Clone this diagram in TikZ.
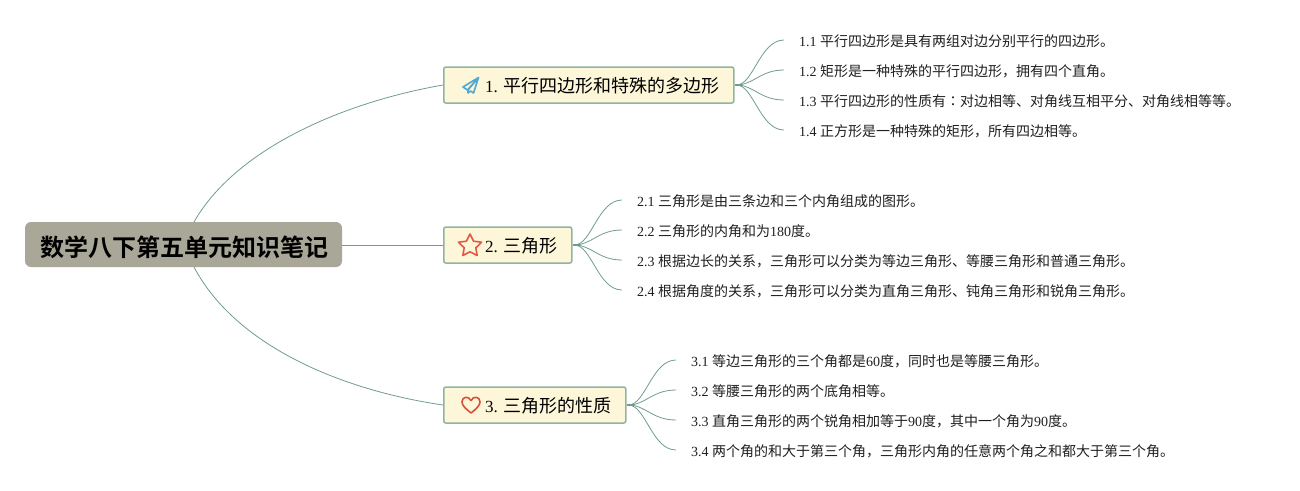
\documentclass[tikz,border=0pt]{standalone}
\usepackage{fontspec}
\setmainfont{Liberation Serif}
\newfontfamily\cjk{Noto Sans CJK SC}[BoldFont={Noto Sans CJK SC Bold}]
\newfontfamily\cjkt{Noto Sans CJK TC}
\newcommand{\C}[1]{{\cjk #1}}
\newcommand{\T}[1]{{\cjk\fontsize{18}{18}\selectfont #1}}
\usetikzlibrary{calc}
\definecolor{linec}{HTML}{6F9C8E}
\definecolor{boxb}{HTML}{8FB5A2}
\definecolor{boxf}{HTML}{FDF6D8}
\definecolor{rootf}{HTML}{A8A798}
\definecolor{planec}{HTML}{4FA8D5}
\definecolor{starc}{HTML}{E25A45}
\definecolor{heartc}{HTML}{D9503F}
\tikzset{
 x=1pt,y=-1pt,
 rootbox/.style={draw=none,fill=rootf,rounded corners=6pt,minimum width=317pt,minimum height=45pt,inner sep=0pt,text=black},
 roottext/.style={inner sep=0pt,font=\cjk\bfseries\fontsize{24}{24}\selectfont,text=black},
 topic/.style={draw=boxb,line width=1.5pt,fill=boxf,rounded corners=2pt,minimum height=36pt,inner sep=0pt,anchor=west},
 topictext/.style={anchor=west,inner sep=0pt,font=\fontsize{17}{18}\selectfont,text=black},
 leaf/.style={anchor=west,inner xsep=15pt,inner ysep=0pt,text height=12pt,text depth=1pt,font=\fontsize{14}{15}\selectfont,text=black!88},
 mainline/.style={draw=linec,line width=0.8pt},
 subline/.style={draw=linec,line width=0.8pt},
 stub/.style={draw=linec,line width=2pt},
 icon/.style={line width=1.6pt,line join=round,fill=none},
}
\begin{document}
\begin{tikzpicture}
\useasboundingbox (0,0) rectangle (1300,490);
\node[rootbox] (root) at (183.5,244.5) {};
\node[roottext] (roott) at (184.5,247) {数学八下第五单元知识笔记};
\node[topic,minimum width=290pt] (t1) at (443,85) {};
\node[topic,minimum width=128pt] (t2) at (443,245) {};
\node[topic,minimum width=182pt] (t3) at (443,405) {};
\node[topictext] (l1) at (485,86) {1. \T{平行四边形和特殊的多边形}};
\node[topictext] (l2) at (485,246) {2. \T{三角形}};
\node[topictext] (l3) at (485,406) {3. \T{三角形的性质}};

\coordinate (r1) at (194,222);
\coordinate (r3) at (194,267);
\draw[mainline] (r1) .. controls (235,150) and (340,103) .. (t1.west);
\draw[mainline] (root.east |- t2.west) -- (t2.west);
\draw[mainline] (r3) .. controls (235,345) and (340,390) .. (t3.west);

\node[leaf] (a1) at (784,41) {1.1 \C{平行四边形是具有两组对边分别平行的四边形。}};
\node[leaf] (a2) at (784,71) {1.2 \C{矩形是一种特殊的平行四边形，拥有四个直角。}};
\node[leaf] (a3) at (784,101) {1.3 \C{平行四边形的性质有{\cjkt ：}对边相等、对角线互相平分、对角线相等等。}};
\node[leaf] (a4) at (784,131) {1.4 \C{正方形是一种特殊的矩形，所有四边相等。}};
\node[leaf] (b1) at (622,201) {2.1 \C{三角形是由三条边和三个内角组成的图形。}};
\node[leaf] (b2) at (622,231) {2.2 \C{三角形的内角和为}180\C{度。}};
\node[leaf] (b3) at (622,261) {2.3 \C{根据边长的关系，三角形可以分类为等边三角形、等腰三角形和普通三角形。}};
\node[leaf] (b4) at (622,291) {2.4 \C{根据角度的关系，三角形可以分类为直角三角形、钝角三角形和锐角三角形。}};
\node[leaf] (c1) at (676,361) {3.1 \C{等边三角形的三个角都是}60\C{度，同时也是等腰三角形。}};
\node[leaf] (c2) at (676,391) {3.2 \C{等腰三角形的两个底角相等。}};
\node[leaf] (c3) at (676,421) {3.3 \C{直角三角形的两个锐角相加等于}90\C{度，其中一个角为}90\C{度。}};
\node[leaf] (c4) at (676,451) {3.4 \C{两个角的和大于第三个角，三角形内角的任意两个角之和都大于第三个角。}};

\foreach \t/\p in {t1/a,t2/b,t3/c}{
  \draw[stub] (\t.east) -- ++(6,0);
  \draw[subline] ($(\t.east)+(2,0)$) .. controls ++(17,0) and ($(\p1.west)+(-24,-1)$) .. ($(\p1.west)+(0,-1)$);
  \draw[subline] ($(\t.east)+(2,0)$) .. controls ++(17,0) and ($(\p2.west)+(-24,-1)$) .. ($(\p2.west)+(0,-1)$);
  \draw[subline] ($(\t.east)+(2,0)$) .. controls ++(17,0) and ($(\p3.west)+(-24,-1)$) .. ($(\p3.west)+(0,-1)$);
  \draw[subline] ($(\t.east)+(2,0)$) .. controls ++(17,0) and ($(\p4.west)+(-24,-1)$) .. ($(\p4.west)+(0,-1)$);
}
% icons
\draw[icon,draw=planec] (478.5,77.5) -- (463,87) -- (467.5,90) -- (478.5,77.5) -- (468,90) -- (468,93) -- (470.5,91) -- (473.5,93) -- cycle;
\draw[icon,draw=starc] (470,234) -- (473.6,241.2) -- (481.5,242.2) -- (475.8,247.8) -- (477.2,255.5) -- (470,251.8) -- (462.8,255.5) -- (464.2,247.8) -- (458.5,242.2) -- (466.4,241.2) -- cycle;
\draw[icon,draw=heartc] (471,413) .. controls (466,409) and (462,405.5) .. (462,402) .. controls (462,396.5) and (468.5,395.5) .. (471,400.5) .. controls (473.5,395.5) and (480,396.5) .. (480,402) .. controls (480,405.5) and (476,409) .. (471,413) -- cycle;
\end{tikzpicture}
\end{document}
